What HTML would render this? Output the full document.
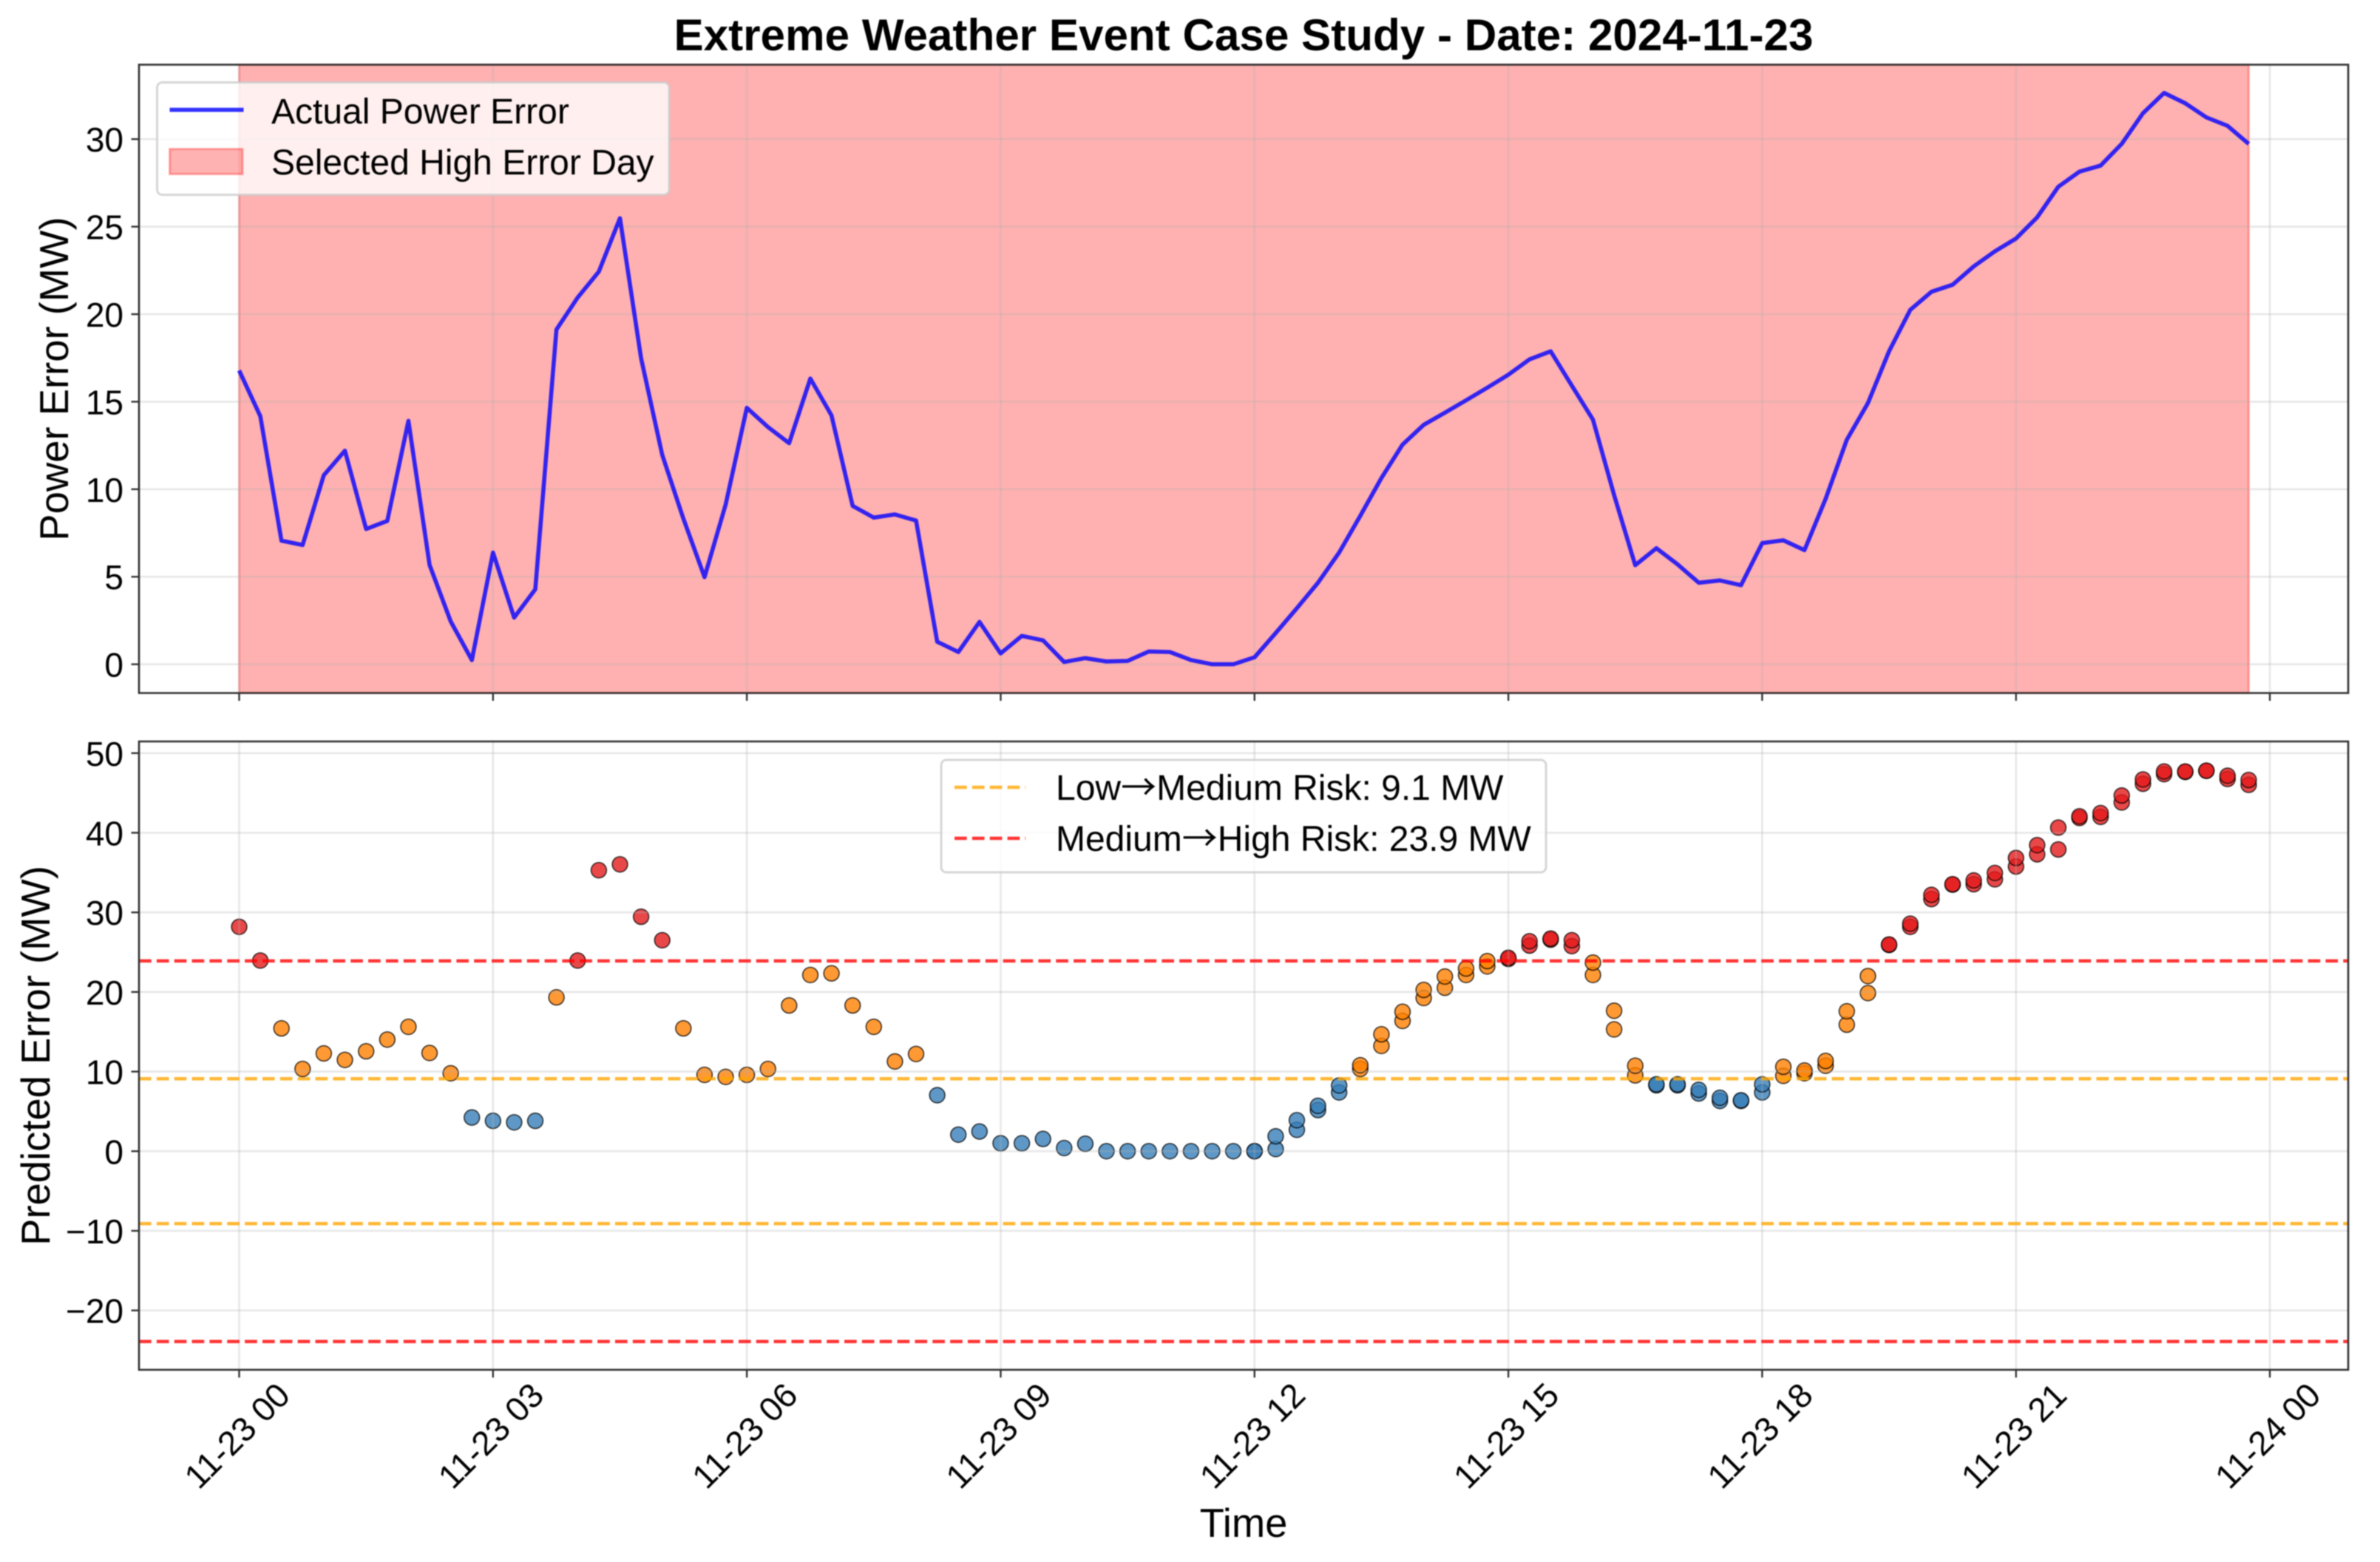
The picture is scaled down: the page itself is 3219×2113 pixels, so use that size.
<!DOCTYPE html>
<html lang="en">
<head>
<meta charset="utf-8">
<title>Extreme Weather Event Case Study</title>
<style>
html,body{margin:0;padding:0;background:#fff;width:3219px;height:2113px;overflow:hidden}
svg{display:block;filter:blur(0.8px)}
text{font-family:"Liberation Sans",Arial,sans-serif;fill:#000}
</style>
</head>
<body>
<svg id="chart" xmlns="http://www.w3.org/2000/svg" width="3219" height="2113" viewBox="0 0 3219 2113">
  <rect x="0" y="0" width="3219" height="2113" fill="#fff"/>
  <text x="1682" y="68" text-anchor="middle" font-size="60.2" font-weight="bold">Extreme Weather Event Case Study - Date: 2024-11-23</text>

  <g id="top-panel">
    <g id="top-band"></g>
    <g id="top-grid"></g>
    <g id="top-series"></g>
    <g id="top-axes"></g>
    <text transform="translate(92 512.5) rotate(-90)" text-anchor="middle" font-size="54.4">Power Error (MW)</text>
    <g>
      <rect x="212.5" y="111.5" width="692.5" height="152" rx="7" ry="7" fill="#fff" fill-opacity="0.8" stroke="#ccc" stroke-opacity="0.8" stroke-width="3"/>
      <line x1="229.5" y1="148.6" x2="329.5" y2="148.6" stroke="#0000ff" stroke-opacity="0.8" stroke-width="5.6"/>
      <text x="367" y="167" font-size="48">Actual Power Error</text>
      <rect x="229.5" y="201.5" width="98.5" height="34" fill="#ff0000" fill-opacity="0.3" stroke="#ff0000" stroke-opacity="0.3" stroke-width="3"/>
      <text x="367" y="236" font-size="48">Selected High Error Day</text>
    </g>
  </g>

  <g id="bottom-panel">
    <g id="bottom-points"></g>
    <g id="bottom-grid"></g>
    <g id="bottom-lines"></g>
    <g id="bottom-axes"></g>
    <text transform="translate(67 1428) rotate(-90)" text-anchor="middle" font-size="54.4">Predicted Error (MW)</text>
    <text x="1682" y="2079" text-anchor="middle" font-size="54.4">Time</text>
    <g>
      <rect x="1273" y="1028" width="818" height="152" rx="7" ry="7" fill="#fff" fill-opacity="0.8" stroke="#ccc" stroke-opacity="0.8" stroke-width="3"/>
      <line x1="1291" y1="1065" x2="1387" y2="1065" stroke="#ffa500" stroke-opacity="0.8" stroke-width="4.5" stroke-dasharray="16.65 7.2"/>
      <text x="1428" y="1082" font-size="48">Low<tspan font-family="'Noto Sans CJK JP',sans-serif" font-size="48">→</tspan>Medium Risk: 9.1 MW</text>
      <line x1="1291" y1="1134" x2="1387" y2="1134" stroke="#ff0000" stroke-opacity="0.8" stroke-width="4.5" stroke-dasharray="16.65 7.2"/>
      <text x="1428" y="1151" font-size="48">Medium<tspan font-family="'Noto Sans CJK JP',sans-serif" font-size="48">→</tspan>High Risk: 23.9 MW</text>
    </g>
  </g>
</svg>
<script>
const timeMinutes = [0,15,30,45,60,75,90,105,120,135,150,165,180,195,210,225,240,255,270,285,300,315,330,345,360,375,390,405,420,435,450,465,480,495,510,525,540,555,570,585,600,615,630,645,660,675,690,705,720,735,750,765,780,795,810,825,840,855,870,885,900,915,930,945,960,975,990,1005,1020,1035,1050,1065,1080,1095,1110,1125,1140,1155,1170,1185,1200,1215,1230,1245,1260,1275,1290,1305,1320,1335,1350,1365,1380,1395,1410,1425];
const powerError = [16.78,14.17,7.06,6.81,10.8,12.2,7.73,8.19,13.9,5.68,2.45,0.24,6.38,2.67,4.28,19.12,20.95,22.43,25.48,17.48,11.96,8.32,4.98,9.13,14.65,13.55,12.63,16.32,14.22,9.05,8.38,8.56,8.21,1.29,0.7,2.42,0.62,1.62,1.37,0.13,0.35,0.16,0.19,0.73,0.7,0.24,0,0,0.4,1.78,3.2,4.66,6.38,8.48,10.64,12.55,13.68,14.37,15.08,15.8,16.54,17.42,17.88,15.92,13.98,9.67,5.66,6.63,5.71,4.66,4.79,4.52,6.92,7.08,6.52,9.45,12.82,14.92,17.88,20.25,21.28,21.68,22.73,23.59,24.32,25.53,27.28,28.14,28.49,29.73,31.48,32.64,32.05,31.24,30.76,29.73];
const predictedFirst = [28.18,23.95,15.43,10.33,12.28,11.47,12.55,14.02,15.63,12.34,9.79,4.23,3.82,3.62,3.82,19.32,23.95,35.29,36.03,29.45,26.5,15.43,9.59,9.33,9.59,10.33,18.31,22.14,22.34,18.31,15.63,11.27,12.21,7.04,2.08,2.48,1.0,1.0,1.54,0.4,0.94,0,0,0,0,0,0,0,0,0.27,2.68,5.17,7.38,10.33,13.22,16.37,19.25,20.53,22.14,23.21,24.15,25.83,26.57,25.76,22.14,15.3,9.53,8.28,8.28,7.25,6.31,6.31,7.38,9.46,9.79,10.73,15.9,19.86,25.9,28.18,31.67,33.48,33.54,34.15,35.76,37.3,37.9,41.86,42.0,43.81,46.16,47.36,47.63,47.77,46.76,46.02];
const predictedSecond = [null,null,null,null,null,null,null,null,null,null,null,null,null,null,null,null,null,null,null,null,null,null,null,null,null,null,null,null,null,null,null,null,null,null,null,null,null,null,null,null,null,null,null,null,null,null,null,null,0,1.88,3.89,5.7,8.25,10.8,14.69,17.51,20.26,21.94,22.94,23.88,24.29,26.37,26.7,26.5,23.7,17.64,10.73,8.4,8.4,7.71,6.71,6.4,8.39,10.6,10.13,11.34,17.58,22.0,25.96,28.58,32.2,33.54,34.01,34.95,36.83,38.44,40.65,42.06,42.47,44.68,46.69,47.7,47.7,47.8,47.16,46.63];
const powerTicks = [0,5,10,15,20,25,30];
const predictedTicks = [-20,-10,0,10,20,30,40,50];
const predictedTickLabels = ['−20','−10','0','10','20','30','40','50'];
const timeTickHours = [0,3,6,9,12,15,18,21,24];
const timeTickLabels = ['11-23 00','11-23 03','11-23 06','11-23 09','11-23 12','11-23 15','11-23 18','11-23 21','11-24 00'];
const lowMediumThreshold = 9.1;
const mediumHighThreshold = 23.9;

const AX = {left:188, right:3176};
const TOP = {top:87.5, bottom:937.5};
const BOT = {top:1003, bottom:1853};
const NS = 'http://www.w3.org/2000/svg';

function xScale(minutes){ return 323.5 + minutes * 1.9073; }
function yPower(v){ return 898.6 - v * 23.68; }
function yPredicted(v){ return 1557.3 - v * 10.77; }
function riskColor(v){
  if (v >= mediumHighThreshold) return '#e41a1c';
  if (v >= lowMediumThreshold) return '#ff7f00';
  return '#377eb8';
}
function make(tag, attrs, parent){
  const node = document.createElementNS(NS, tag);
  for (const k in attrs) node.setAttribute(k, attrs[k]);
  parent.appendChild(node);
  return node;
}
const topBandLayer = document.getElementById('top-band');
const topGrid = document.getElementById('top-grid');
const topSeries = document.getElementById('top-series');
const topAxes = document.getElementById('top-axes');
const bottomPoints = document.getElementById('bottom-points');
const bottomGrid = document.getElementById('bottom-grid');
const bottomLines = document.getElementById('bottom-lines');
const bottomAxes = document.getElementById('bottom-axes');

const band = make('rect', {x:xScale(timeMinutes[0]), y:TOP.top, width:xScale(timeMinutes[timeMinutes.length-1])-xScale(timeMinutes[0]), height:TOP.bottom-TOP.top, fill:'#ff0000','fill-opacity':0.31, stroke:'#ff0000','stroke-opacity':0.3,'stroke-width':3}, topBandLayer);



const gridStyle = {stroke:'#b0b0b0','stroke-opacity':0.3,'stroke-width':2.6};

powerTicks.forEach(function(v){
  const y = yPower(v);
  const g = make('line', Object.assign({x1:AX.left,x2:AX.right,y1:y,y2:y}, gridStyle), topGrid);
  
  
  const t = make('line', {x1:AX.left-10.5,x2:AX.left,y1:y,y2:y,stroke:'#333','stroke-width':2.4}, topAxes);
  
  
  const l = make('text', {x:167,y:y+17,'text-anchor':'end','font-size':46}, topAxes);
  
  
  l.textContent = String(v);
});

predictedTicks.forEach(function(v, i){
  const y = yPredicted(v);
  const g = make('line', Object.assign({x1:AX.left,x2:AX.right,y1:y,y2:y}, gridStyle), bottomGrid);
  
  
  const t = make('line', {x1:AX.left-10.5,x2:AX.left,y1:y,y2:y,stroke:'#333','stroke-width':2.4}, bottomAxes);
  
  
  const l = make('text', {x:167,y:y+17,'text-anchor':'end','font-size':46}, bottomAxes);
  
  
  l.textContent = predictedTickLabels[i];
});

timeTickHours.forEach(function(h, i){
  const x = xScale(h * 60);
  const g1 = make('line', Object.assign({x1:x,x2:x,y1:TOP.top,y2:TOP.bottom}, gridStyle), topGrid);
  
  
  const g2 = make('line', Object.assign({x1:x,x2:x,y1:BOT.top,y2:BOT.bottom}, gridStyle), bottomGrid);
  
  
  const t1 = make('line', {x1:x,x2:x,y1:TOP.bottom,y2:TOP.bottom+10.5,stroke:'#333','stroke-width':2.4}, topAxes);
  
  
  const t2 = make('line', {x1:x,x2:x,y1:BOT.bottom,y2:BOT.bottom+10.5,stroke:'#333','stroke-width':2.4}, bottomAxes);
  
  
  const l = make('text', {transform:'translate('+(x-3)+' 1942) rotate(-45)','text-anchor':'middle','font-size':46,y:16}, bottomAxes);
  
  
  l.textContent = timeTickLabels[i];
});

const linePoints = powerError.map(function(v, i){ return xScale(timeMinutes[i]).toFixed(1) + ',' + yPower(v).toFixed(1); }).join(' ');
const actualLine = make('polyline', {points:linePoints, fill:'none', stroke:'#0000ff','stroke-opacity':0.8,'stroke-width':5.6,'stroke-linejoin':'round','stroke-linecap':'butt'}, topSeries);



[predictedFirst, predictedSecond].forEach(function(series){
  series.forEach(function(v, i){
    if (v === null) return;
    const c = make('circle', {cx:xScale(timeMinutes[i]).toFixed(1), cy:yPredicted(v).toFixed(1), r:10.4, fill:riskColor(v),'fill-opacity':0.8, stroke:'#000','stroke-opacity':0.8,'stroke-width':1.5}, bottomPoints);
    
    
  });
});

[lowMediumThreshold, -lowMediumThreshold].forEach(function(v){
  const y = yPredicted(v);
  const ln = make('line', {x1:AX.left,x2:AX.right,y1:y,y2:y,stroke:'#ffa500','stroke-opacity':0.8,'stroke-width':4.5,'stroke-dasharray':'16.65 7.2'}, bottomLines);
  
  
});
[mediumHighThreshold, -mediumHighThreshold].forEach(function(v){
  const y = yPredicted(v);
  const ln = make('line', {x1:AX.left,x2:AX.right,y1:y,y2:y,stroke:'#ff0000','stroke-opacity':0.8,'stroke-width':4.5,'stroke-dasharray':'16.65 7.2'}, bottomLines);
  
  
});

const topFrame = make('rect', {x:AX.left,y:TOP.top,width:AX.right-AX.left,height:TOP.bottom-TOP.top,fill:'none',stroke:'#333','stroke-width':2.6}, topAxes);


const bottomFrame = make('rect', {x:AX.left,y:BOT.top,width:AX.right-AX.left,height:BOT.bottom-BOT.top,fill:'none',stroke:'#333','stroke-width':2.6}, bottomAxes);


</script>
</body>
</html>
